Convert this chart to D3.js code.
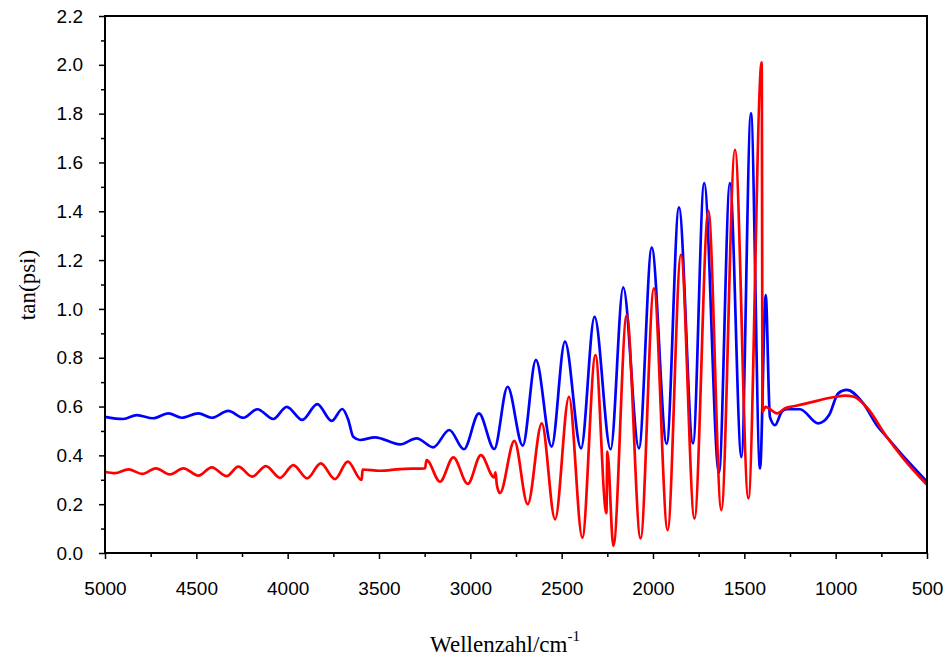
<!DOCTYPE html>
<html>
<head>
<meta charset="utf-8">
<script src="https://cdn.jsdelivr.net/npm/d3@7"></script>
<style>
  body { margin: 0; background: #fff; }
</style>
</head>
<body>
<div id="chart"></div>
<script>
// Wavenumbers (cm^-1) and tan(psi) values
var blueWn = [5000, 4900, 4826, 4736, 4653, 4580, 4489, 4416, 4325, 4243, 4166, 4079, 4005, 3920, 3838, 3759, 3701, 3668, 3641, 3604, 3522, 3385,
    3294, 3203, 3115, 3035, 2953, 2869, 2796, 2713, 2641, 2555, 2482, 2394, 2320, 2232, 2163, 2077, 2007, 1925, 1858, 1781,
    1720, 1639, 1579, 1516, 1464, 1414, 1383, 1360, 1332, 1295, 1268, 1195, 1095, 1036, 986, 940, 849, 775, 721, 611, 500];
var blueVal = [0.558, 0.549, 0.565, 0.552, 0.572, 0.554, 0.572, 0.554, 0.582, 0.554, 0.589, 0.549, 0.599, 0.545, 0.610, 0.541, 0.590, 0.545, 0.476, 0.463, 0.474, 0.445,
    0.470, 0.433, 0.504, 0.425, 0.572, 0.426, 0.681, 0.440, 0.791, 0.436, 0.866, 0.429, 0.967, 0.425, 1.088, 0.429, 1.251, 0.447, 1.416, 0.449,
    1.515, 0.328, 1.515, 0.393, 1.801, 0.347, 1.057, 0.558, 0.524, 0.579, 0.589, 0.589, 0.531, 0.565, 0.654, 0.668, 0.613, 0.524, 0.476, 0.381, 0.292];

var redWn = [5000, 4945, 4872, 4796, 4722, 4644, 4571, 4489, 4416, 4334, 4270, 4194, 4119, 4042, 3969, 3893, 3819, 3741, 3671, 3595, 3590, 3495, 3385,
    3248, 3240, 3166, 3093, 3014, 2942, 2870, 2862, 2855, 2838, 2759, 2686, 2609, 2536, 2460, 2387, 2315, 2255, 2250, 2217,
    2144, 2068, 1995, 1920, 1847, 1773, 1697, 1626, 1551, 1478, 1405, 1400, 1384, 1321, 1277, 1223, 1159, 1000, 950, 900, 830, 721, 630, 500];
var redVal = [0.333, 0.327, 0.343, 0.324, 0.347, 0.322, 0.347, 0.317, 0.351, 0.315, 0.354, 0.313, 0.356, 0.308, 0.360, 0.306, 0.367, 0.303, 0.374, 0.299, 0.342, 0.337, 0.344,
    0.347, 0.381, 0.292, 0.392, 0.283, 0.401, 0.310, 0.330, 0.280, 0.245, 0.459, 0.200, 0.531, 0.138, 0.640, 0.063, 0.811, 0.163, 0.415, 0.029,
    0.975, 0.060, 1.084, 0.094, 1.221, 0.141, 1.403, 0.176, 1.652, 0.224, 2.010, 0.579, 0.599, 0.572, 0.593, 0.602, 0.613, 0.640, 0.645, 0.640, 0.597, 0.476, 0.388, 0.279];

// Tick labels
var xTicks = [5000, 4500, 4000, 3500, 3000, 2500, 2000, 1500, 1000, 500];
var yTicks = [0.0, 0.2, 0.4, 0.6, 0.8, 1.0, 1.2, 1.4, 1.6, 1.8, 2.0, 2.2];

var margin = { top: 16, right: 18, bottom: 108, left: 105 },
    width = 945 - margin.left - margin.right,
    height = 661 - margin.top - margin.bottom;

var svg = d3.select("#chart")
    .append("svg")
    .attr("width", 945)
    .attr("height", 661)
    .append("g")
    .attr("transform", "translate(" + margin.left + "," + margin.top + ")");

var x = d3.scaleLinear().domain([5000, 500]).range([0, width]);
var y = d3.scaleLinear().domain([0, 2.2]).range([height, 0]);

// minor ticks
svg.append("g")
    .attr("transform", "translate(0," + height + ")")
    .call(d3.axisBottom(x).tickValues(d3.range(4750, 500, -500)).tickSize(4).tickFormat(""))
    .call(function (g) { g.select(".domain").remove(); g.selectAll("line").attr("stroke-width", 1.5); });
svg.append("g")
    .call(d3.axisLeft(y).tickValues(d3.range(0.1, 2.2, 0.2)).tickSize(4).tickFormat(""))
    .call(function (g) { g.select(".domain").remove(); g.selectAll("line").attr("stroke-width", 1.5); });

// major ticks
svg.append("g")
    .attr("transform", "translate(0," + height + ")")
    .call(d3.axisBottom(x).tickValues(xTicks).tickSize(6).tickPadding(23).tickFormat(d3.format("d")))
    .call(function (g) {
        g.select(".domain").remove();
        g.selectAll("line").attr("stroke-width", 1.5);
        g.selectAll("text").style("font-family", "Liberation Sans, Arial, sans-serif").style("font-size", "19px").attr("fill", "#000");
    });
svg.append("g")
    .call(d3.axisLeft(y).tickValues(yTicks).tickSize(6).tickPadding(16).tickFormat(d3.format(".1f")))
    .call(function (g) {
        g.select(".domain").remove();
        g.selectAll("line").attr("stroke-width", 1.5);
        g.selectAll("text").style("font-family", "Liberation Sans, Arial, sans-serif").style("font-size", "19px").attr("fill", "#000");
    });

// curves
var line = d3.line()
    .x(function (d) { return x(d[0]); })
    .y(function (d) { return y(d[1]); })
    .curve(d3.curveMonotoneX);

svg.append("path")
    .datum(d3.zip(blueWn, blueVal))
    .attr("fill", "none")
    .attr("stroke", "#0000ff")
    .attr("stroke-width", 2.7)
    .attr("d", line);

svg.append("path")
    .datum(d3.zip(redWn, redVal))
    .attr("fill", "none")
    .attr("stroke", "#ff0000")
    .attr("stroke-width", 2.7)
    .attr("d", line);

// frame
svg.append("rect")
    .attr("width", width)
    .attr("height", height)
    .attr("fill", "none")
    .attr("stroke", "#000")
    .attr("stroke-width", 2);

// axis titles
svg.append("text")
    .attr("transform", "translate(" + (27 - margin.left) + "," + (285 - margin.top) + ") rotate(-90)")
    .attr("text-anchor", "middle")
    .attr("dy", "0.35em")
    .style("font-family", "Liberation Serif, Times New Roman, serif")
    .style("font-size", "23px")
    .text("tan(psi)");

var xt = svg.append("text")
    .attr("x", 505 - margin.left)
    .attr("y", 652 - margin.top)
    .attr("text-anchor", "middle")
    .style("font-family", "Liberation Serif, Times New Roman, serif")
    .style("font-size", "23px");
xt.append("tspan").text("Wellenzahl/cm");
xt.append("tspan").attr("dy", "-11").style("font-size", "15px").text("-1");
</script>
</body>
</html>
